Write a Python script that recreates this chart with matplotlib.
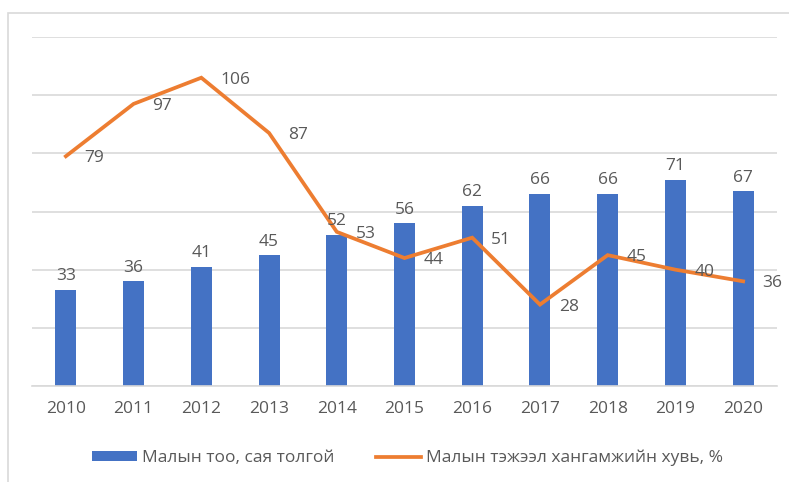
import numpy as np
import matplotlib.pyplot as plt
from matplotlib.patches import Rectangle

# Өгөгдөл
years = ['2010', '2011', '2012', '2013', '2014', '2015', '2016', '2017', '2018', '2019', '2020']
livestock = [33, 36, 41, 45, 52, 56, 62, 66, 66, 71, 67]
fodder_pct = [79, 97, 106, 87, 53, 44, 51, 28, 45, 40, 36]

bar_label = 'Малын тоо, сая толгой'
line_label = 'Малын тэжээл хангамжийн хувь, %'

blue = '#4472C4'
orange = '#ED7D31'
text_gray = '#595959'
grid_gray = '#D9D9D9'
fs = 12.5

plt.rcParams['font.family'] = ['Open Sans', 'DejaVu Sans']

fig = plt.figure(figsize=(7.89, 4.82), dpi=100)
ax = fig.add_axes([32 / 789, 96 / 482, 745 / 789, 349 / 482])

# Chart border
fig.patches.append(Rectangle((8 / 789, -0.1), 1.2, 1.1 - 13 / 482,
                             transform=fig.transFigure, fill=False,
                             edgecolor=grid_gray, linewidth=1.2))

x = np.arange(len(years))
bars = ax.bar(x, livestock, width=0.31, color=blue, label=bar_label, zorder=2)
line, = ax.plot(x, fodder_pct, color=orange, linewidth=2.7, label=line_label,
                solid_joinstyle='miter', zorder=3)

for xi, v in zip(x, livestock):
    ax.annotate(str(v), (xi, v), xytext=(0, 4), textcoords='offset points',
                ha='center', va='bottom', fontsize=fs, color=text_gray)

for xi, v in zip(x, fodder_pct):
    ax.annotate(str(v), (xi, v), xytext=(13.5, -1.5), textcoords='offset points',
                ha='left', va='center', fontsize=fs, color=text_gray)

ax.set_xlim(-0.5, len(years) - 0.5)
ax.set_ylim(0, 120)
ax.set_yticks(np.arange(0, 121, 20))
ax.yaxis.grid(True, color=grid_gray, linewidth=1.2, zorder=0)
ax.set_axisbelow(True)
ax.tick_params(axis='y', left=False, labelleft=False)
ax.tick_params(axis='x', bottom=False, labelsize=fs, labelcolor=text_gray, pad=7)
ax.set_xticks(x)
ax.set_xticklabels(years)
for s in ['top', 'right', 'left']:
    ax.spines[s].set_visible(False)
ax.spines['bottom'].set_color(grid_gray)
ax.spines['bottom'].set_linewidth(1.2)

leg = fig.legend(handles=[bars, line], loc='center',
                 bbox_to_anchor=(0.5 + 13 / 789, 24 / 482),
                 ncol=2, frameon=False, fontsize=fs, handlelength=2.6,
                 handleheight=0.45, handletextpad=0.3, columnspacing=2.4,
                 labelcolor=text_gray)

fig.savefig('out.png', dpi=100)
